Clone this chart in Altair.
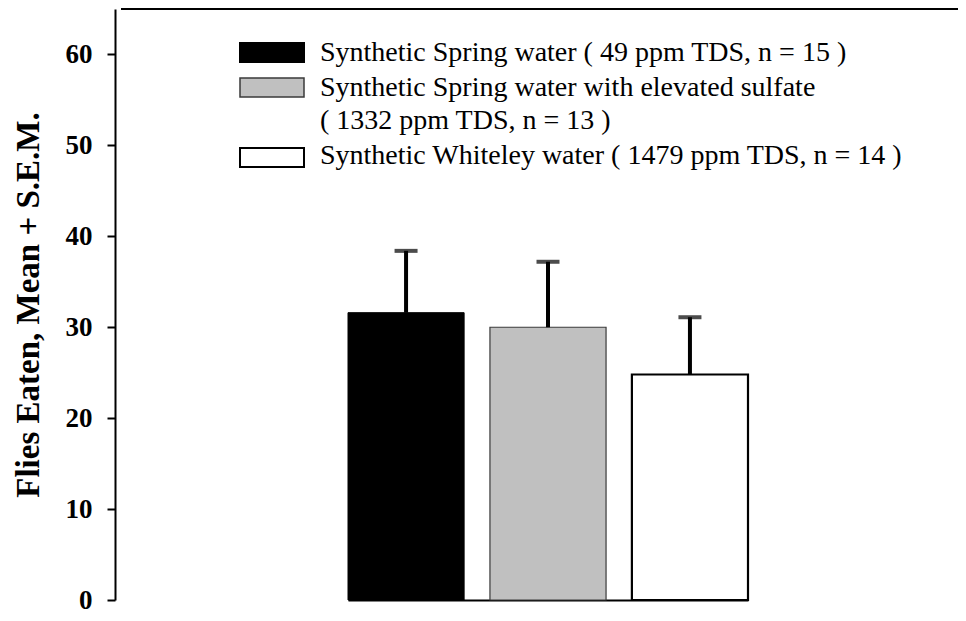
import altair as alt
import pandas as pd

# ---- data ----
groups = ["Synthetic Spring water", "Synthetic Spring water with elevated sulfate", "Synthetic Whiteley water"]
means = [31.6, 30.0, 24.8]
sems = [6.8, 7.2, 6.3]
fills = ["#000000", "#c0c0c0", "#ffffff"]
strokes = ["#000000", "#3a3a3a", "#000000"]
stroke_widths = [1, 1.2, 2.2]
legend_lines = [
    "Synthetic Spring water ( 49 ppm TDS, n = 15 )",
    "Synthetic Spring water with elevated sulfate",
    "( 1332 ppm TDS, n = 13 )",
    "Synthetic Whiteley water ( 1479 ppm TDS, n = 14 )",
]
y_ticks = [0, 10, 20, 30, 40, 50, 60]
y_max = 65
y_title = "Flies Eaten, Mean + S.E.M."

FONT = "Liberation Serif"
W, H = 843, 591

df = pd.DataFrame({
    "group": groups, "mean": means, "sem": sems,
    "fill": fills, "stroke": strokes, "sw": stroke_widths,
})
df["upper"] = df["mean"] + df["sem"]

y_axis = alt.Axis(
    values=y_ticks, title=y_title, grid=False,
    labelFont=FONT, labelFontSize=27, labelFontWeight="bold", labelColor="black",
    labelPadding=15, tickSize=8, tickWidth=2, tickColor="black",
    domainColor="black", domainWidth=2,
    titleFont=FONT, titleFontSize=33, titleFontWeight="bold", titleColor="black",
    titlePadding=20,
)
y_scale = alt.Scale(domain=[0, y_max], nice=False)

x_enc = alt.X(
    "group:N", sort=groups,
    scale=alt.Scale(range=[233, 633], paddingInner=0.182, paddingOuter=0),
    axis=alt.Axis(title=None, labels=False, ticks=False, domainColor="black", domainWidth=2),
)

bars = alt.Chart(df).mark_bar().encode(
    x=x_enc,
    y=alt.Y("mean:Q", scale=y_scale, axis=y_axis),
    fill=alt.Fill("fill:N", scale=None),
    stroke=alt.Stroke("stroke:N", scale=None),
    strokeWidth=alt.StrokeWidth("sw:Q", scale=None),
)

err = alt.Chart(df).mark_rule(color="black", strokeWidth=4).encode(
    x=alt.X("group:N", sort=groups),
    y=alt.Y("mean:Q", scale=y_scale, axis=y_axis),
    y2="upper:Q",
)

caps = alt.Chart(df).mark_tick(color="black", thickness=4, size=23).encode(
    x=alt.X("group:N", sort=groups),
    y=alt.Y("upper:Q", scale=y_scale, axis=y_axis),
)

top_line = alt.Chart(pd.DataFrame({"v": [y_max]})).mark_rule(color="black", strokeWidth=2).encode(
    y=alt.Y("v:Q", scale=y_scale, axis=y_axis),
    x=alt.value(6), x2=alt.value(W),
)

# ---- legend (drawn manually) ----
rect_y = [(34, 53), (69, 88), (139, 158)]
legend_rects = []
for i in range(3):
    ld = pd.DataFrame({"fill": [fills[i]], "stroke": [strokes[i]], "sw": [[2, 1.5, 2][i]]})
    legend_rects.append(
        alt.Chart(ld).mark_rect().encode(
            x=alt.value(125), x2=alt.value(189),
            y=alt.value(rect_y[i][0]), y2=alt.value(rect_y[i][1]),
            fill=alt.Fill("fill:N", scale=None),
            stroke=alt.Stroke("stroke:N", scale=None),
            strokeWidth=alt.StrokeWidth("sw:Q", scale=None),
        )
    )

text_y = [52, 87, 120, 155]
legend_texts = []
for i, line in enumerate(legend_lines):
    legend_texts.append(
        alt.Chart(pd.DataFrame({"t": [line]})).mark_text(
            align="left", baseline="alphabetic", font=FONT, fontSize=28, color="black"
        ).encode(text="t:N", x=alt.value(205), y=alt.value(text_y[i]))
    )

chart = alt.layer(bars, err, caps, top_line, *legend_rects, *legend_texts).properties(
    width=W, height=H,
    autosize=alt.AutoSizeParams(type="none"),
    padding={"left": 107, "top": 1, "right": 0, "bottom": 13},
    background="white",
).configure_view(stroke=None)

chart.save("out.html", embed_options={"renderer": "svg", "actions": False})
